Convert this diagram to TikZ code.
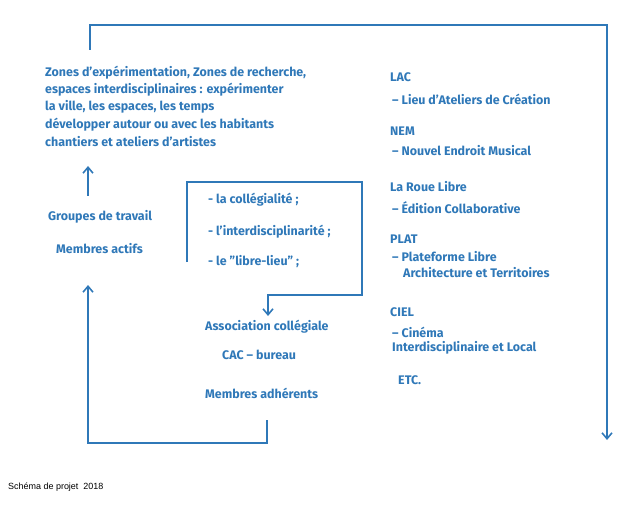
\documentclass[tikz,border=0pt]{standalone}
\usepackage{fontspec}
\setmainfont{Fira Sans}
\newfontfamily\capfont{Liberation Sans}
\usetikzlibrary{positioning,arrows.meta}
\definecolor{schemablue}{HTML}{2F78B8}

\begin{document}
\begin{tikzpicture}[x=1bp,y=-1bp]
				\tikzset{txt/.style={anchor=west,inner sep=0,text=schemablue,font=\fontsize{12.5}{14}\selectfont\bfseries},
				         ln/.style={draw=schemablue,line width=1.6pt},
				         arr/.style={ln,-{Straight Barb[length=6pt,width=10pt]}}}
				\useasboundingbox (0,0) rectangle (635,513);
				% left column
				\node[txt] at (45,73) (zones) {Zones d'expérimentation, Zones de recherche,};
				\node[txt] at (45,90) (espaces) {espaces interdisciplinaires : expérimenter};
				\node[txt] at (45,107) (ville) {la ville, les espaces, les temps};
				\node[txt] at (45,125) (habitants) {développer autour ou avec les habitants};
				\node[txt] at (45,142) (chantiers) {chantiers et ateliers d'artistes};
				\node[txt] at (48,217) (groupes) {Groupes de travail};
				\node[txt] at (56,249) (actifs) {Membres actifs};
				% principles box
				\node[txt] at (208,200) (colleg) {- la collégialité ;};
				\node[txt] at (208,232) (inter) {- l'interdisciplinarité ;};
				\node[txt] at (208,262) (libre) {- le "libre-lieu" ;};
				\node[txt] at (205,327) (asso) {Association collégiale};
				\node[txt] at (222,355) (cac) {CAC – bureau};
				\node[txt] at (205,393) (adherents) {Membres adhérents};
				% right column
				\node[txt] at (390,77) (lac) {LAC};
				\node[txt] at (392,99) (lacd) {– Lieu d'Ateliers de Création};
				\node[txt] at (390,131) (nem) {NEM};
				\node[txt] at (392,151) (nemd) {– Nouvel Endroit Musical};
				\node[txt] at (390,187) (roue) {La Roue Libre};
				\node[txt] at (392,208) (roued) {– Édition Collaborative};
				\node[txt] at (390,239) (plat) {PLAT};
				\node[txt] at (392,257) (platd) {– Plateforme Libre};
				\node[txt] at (403,273) (platdd) {Architecture et Territoires};
				\node[txt] at (390,312) (ciel) {CIEL};
				\node[txt] at (392,332) (cield) {– Cinéma};
				\node[txt] at (392,348) (cieldd) {Interdisciplinaire et Local};
				\node[txt] at (398,380) (etc) {ETC.};
				\node[anchor=west,inner sep=0,font=\capfont\fontsize{9}{10}\selectfont] at (8,487) (caption) {Schéma de projet \ 2018};
				
				\coordinate (topstart) at (90,50);
				\coordinate (topend) at (607,440);
				\coordinate (groupesup) at (88,196);
				\coordinate (chantiersdown) at (88,166);
				\coordinate (boxstart) at (187,262);
				\coordinate (boxend) at (268,316);
				\coordinate (botstart) at (267,420);
				\coordinate (botend) at (88,285);
				
				\draw[arr] (topstart) |- (345,25) -| (topend);
				\draw[arr] (groupesup) -- (chantiersdown);
				\draw[arr] (boxstart) |- (362,182) |- (268,295) -- (boxend);
				\draw[arr] (botstart) -- (267,443) -| (botend);
			\end{tikzpicture}
\end{document}
